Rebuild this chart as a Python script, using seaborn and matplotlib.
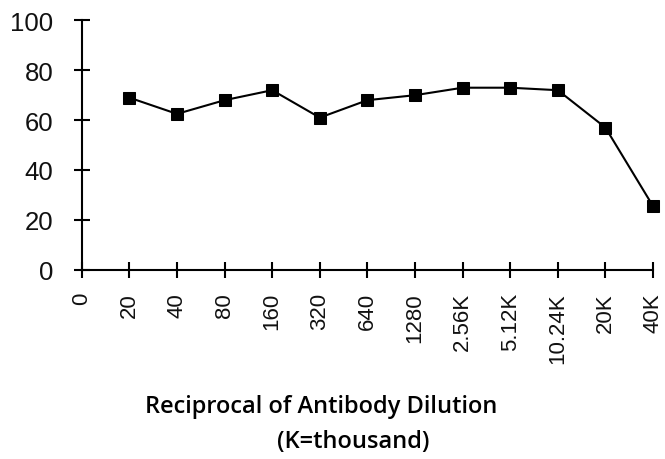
import matplotlib
matplotlib.use("Agg")
import matplotlib.pyplot as plt
import seaborn as sns
import pandas as pd

# dilution categories (0 has no measurement)
dilution_labels = ['0', '20', '40', '80', '160', '320', '640', '1280',
                   '2.56K', '5.12K', '10.24K', '20K', '40K']
measured = ['20', '40', '80', '160', '320', '640', '1280',
            '2.56K', '5.12K', '10.24K', '20K', '40K']
values = [69, 62.5, 68, 72, 61, 68, 70, 73, 73, 72, 57, 25.5]
y_ticks = [0, 20, 40, 60, 80, 100]

df = pd.DataFrame({'dilution': measured, 'value': values})
df['pos'] = [dilution_labels.index(d) for d in df['dilution']]

sns.set_style('white')
plt.rcParams['font.family'] = ['Liberation Sans', 'DejaVu Sans']

fig = plt.figure(figsize=(6.65, 4.6), dpi=100)
ax = fig.add_axes([0.123, 0.4115, 0.859, 0.542])

sns.lineplot(data=df, x='pos', y='value', ax=ax, color='black', linewidth=1.5,
             marker='s', markersize=8, markeredgecolor='black', clip_on=False)

ax.set_xlim(0, len(dilution_labels) - 1)
ax.set_ylim(0, 100)
ax.set_xticks(range(len(dilution_labels)))
ax.set_xticklabels(dilution_labels, rotation=90, fontsize=16)
ax.set_yticks(y_ticks)
ax.set_yticklabels([str(t) for t in y_ticks], fontsize=18.5)
ax.set_xlabel('')
ax.set_ylabel('')

sns.despine(ax=ax)
for s in ['left', 'bottom']:
    ax.spines[s].set_linewidth(1.5)
    ax.spines[s].set_color('black')
ax.tick_params(axis='both', direction='inout', length=12, width=1.5, color='black',
               labelcolor='#111111', bottom=True, left=True)
ax.tick_params(axis='x', pad=10)
ax.tick_params(axis='y', pad=14.5)

# two-line axis title, placed like the original
fig.text(0.483, 0.102, 'Reciprocal of Antibody Dilution', ha='center', va='baseline',
         fontsize=17, fontweight='semibold', color='black',
         family=['Open Sans', 'DejaVu Sans'])
fig.text(0.531, 0.026, '(K=thousand)', ha='center', va='baseline',
         fontsize=17, fontweight='semibold', color='black',
         family=['Open Sans', 'DejaVu Sans'])

fig.savefig('out.png', dpi=100)
